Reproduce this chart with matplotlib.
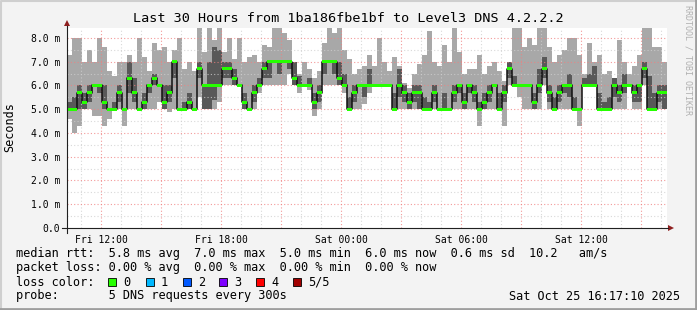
import numpy as np
import pandas as pd
import matplotlib
matplotlib.use('Agg')
import matplotlib.pyplot as plt
import matplotlib.dates as mdates
from matplotlib.patches import Rectangle, Polygon

# 15 minute steps over the last 30 hours (values in ms)
start = pd.Timestamp('2025-10-24 10:17:10')
ping_max = [7.3, 8.0, 8.0, 7.0, 7.5, 7.0, 8.0, 7.6, 6.6, 6.4, 7.0, 7.0, 7.3, 7.0, 8.0, 7.2, 6.6, 7.8, 7.5, 7.6,
            7.0, 7.5, 8.0, 6.7, 7.0, 6.6, 8.4, 7.4, 8.4, 7.9, 8.4, 7.4, 8.0, 7.1, 8.0, 7.0, 7.2, 7.3, 7.0, 7.7,
            7.6, 8.4, 8.4, 8.2, 7.9, 7.0, 6.5, 7.0, 6.7, 6.3, 6.6, 7.8, 8.4, 8.2, 8.4, 7.5, 7.1, 6.5, 6.7, 6.8,
            7.3, 6.8, 8.0, 7.0, 6.6, 7.2, 6.8, 6.1, 5.9, 6.5, 6.9, 7.3, 8.3, 7.0, 6.8, 7.7, 7.0, 8.4, 7.4, 6.5,
            6.7, 6.7, 7.3, 6.5, 6.8, 7.0, 6.6, 6.2, 7.0, 8.4, 8.4, 7.6, 8.0, 7.7, 8.4, 8.4, 7.6, 7.0, 7.3, 7.5,
            8.0, 8.0, 7.3, 6.5, 7.8, 7.0, 7.3, 6.5, 6.6, 6.3, 7.9, 7.0, 6.5, 6.8, 7.3, 8.4, 8.4, 7.6, 7.6, 7.0]
ping_min = [4.6, 4.0, 4.3, 5.0, 5.0, 4.7, 4.7, 4.3, 4.6, 5.0, 5.0, 4.3, 5.0, 5.0, 5.0, 5.0, 5.0, 5.0, 5.3, 5.0,
            4.9, 5.0, 5.0, 5.0, 5.0, 5.0, 5.5, 5.0, 5.0, 5.0, 5.3, 6.0, 6.0, 6.0, 6.0, 5.0, 5.0, 5.0, 5.7, 6.0,
            6.0, 6.0, 6.0, 6.0, 6.5, 6.0, 5.7, 6.0, 5.8, 4.7, 5.0, 6.0, 6.0, 6.0, 6.0, 5.7, 5.0, 5.0, 5.0, 5.2,
            5.7, 6.0, 6.0, 6.0, 6.0, 5.0, 5.0, 5.0, 5.0, 5.0, 5.0, 5.0, 5.0, 5.0, 5.0, 5.0, 5.0, 5.0, 5.0, 5.0,
            5.0, 5.0, 4.3, 5.0, 5.0, 5.0, 5.0, 4.3, 6.0, 6.0, 5.5, 5.0, 5.0, 5.0, 5.0, 6.0, 5.0, 5.0, 5.0, 5.0,
            5.0, 5.0, 4.3, 6.0, 6.0, 6.0, 5.0, 5.0, 5.0, 5.0, 5.0, 5.0, 6.0, 5.0, 5.0, 6.0, 5.0, 5.0, 5.0, 5.0]
inner_lo = [5.0, 5.0, 5.0, 5.0, 5.3, 6.0, 5.7, 5.0, 5.0, 5.0, 5.3, 5.0, 5.7, 5.3, 5.0, 5.0, 5.7, 6.0, 6.0, 5.0,
            5.3, 6.3, 5.0, 5.0, 5.0, 5.0, 6.3, 5.0, 5.0, 5.4, 6.0, 6.3, 6.3, 6.0, 6.0, 5.0, 5.0, 5.3, 6.0, 6.3,
            6.3, 7.0, 6.5, 7.0, 6.7, 6.0, 6.0, 6.0, 6.0, 5.0, 5.3, 6.5, 7.0, 6.5, 6.0, 6.0, 5.0, 5.3, 6.0, 5.5,
            6.0, 6.0, 6.0, 6.0, 6.0, 5.0, 5.5, 5.3, 5.0, 5.3, 5.0, 5.0, 5.0, 5.3, 5.0, 5.0, 5.0, 5.3, 5.7, 5.0,
            5.7, 5.3, 5.0, 5.0, 5.3, 6.0, 5.0, 5.3, 6.3, 6.0, 6.0, 6.0, 6.0, 5.0, 5.7, 6.3, 5.3, 5.0, 5.3, 5.7,
            5.5, 5.0, 5.0, 6.0, 6.0, 6.0, 5.0, 5.0, 5.0, 5.5, 5.3, 5.7, 6.0, 5.3, 5.3, 6.3, 5.0, 5.0, 5.3, 5.0]
inner_hi = [5.3, 5.5, 6.0, 5.7, 6.0, 6.0, 6.0, 6.0, 5.0, 5.3, 6.0, 5.0, 7.0, 6.3, 5.0, 5.7, 6.0, 6.5, 6.0, 6.0,
            6.0, 7.0, 5.0, 5.3, 5.7, 5.0, 7.0, 6.0, 7.0, 7.6, 7.5, 7.0, 7.0, 6.7, 6.0, 5.7, 5.0, 6.0, 6.3, 7.0,
            7.0, 7.0, 7.0, 7.0, 7.0, 7.0, 6.4, 6.0, 6.3, 5.7, 6.0, 7.0, 7.0, 7.0, 7.0, 6.5, 5.5, 6.0, 6.0, 6.0,
            6.7, 6.0, 6.0, 6.0, 6.0, 5.7, 6.7, 6.0, 5.7, 6.0, 6.0, 5.5, 5.3, 6.0, 5.0, 5.7, 5.0, 6.0, 6.0, 5.7,
            6.0, 6.0, 5.3, 5.7, 6.0, 6.0, 5.7, 6.0, 7.0, 6.4, 6.0, 6.0, 6.0, 5.7, 6.7, 7.2, 6.0, 5.5, 6.0, 6.0,
            6.5, 5.5, 5.0, 6.3, 6.5, 6.8, 5.7, 5.3, 5.5, 6.3, 6.0, 6.5, 6.0, 6.0, 6.0, 7.0, 6.4, 5.7, 6.0, 6.0]
median = [5.0, 5.0, 5.7, 5.3, 5.7, 6.0, 6.0, 5.3, 5.0, 5.0, 5.7, 5.0, 6.3, 5.7, 5.0, 5.3, 6.0, 6.3, 6.0, 5.3,
          5.7, 7.0, 5.0, 5.0, 5.3, 5.0, 6.7, 6.0, 6.0, 6.0, 6.0, 6.7, 6.7, 6.3, 6.0, 5.3, 5.0, 5.7, 6.0, 6.7,
          7.0, 7.0, 7.0, 7.0, 7.0, 6.3, 6.0, 6.0, 6.0, 5.3, 5.7, 7.0, 7.0, 7.0, 6.3, 6.0, 5.0, 5.7, 6.0, 6.0,
          6.0, 6.0, 6.0, 6.0, 6.0, 5.0, 6.0, 5.7, 5.3, 5.7, 5.7, 5.0, 5.0, 5.7, 5.0, 5.0, 5.0, 5.7, 6.0, 5.3,
          6.0, 5.7, 5.0, 5.3, 5.7, 6.0, 5.0, 5.7, 6.7, 6.0, 6.0, 6.0, 6.0, 5.3, 6.0, 6.7, 5.7, 5.0, 5.7, 6.0,
          6.0, 5.0, 5.0, 6.0, 6.0, 6.0, 5.0, 5.0, 5.0, 6.0, 5.7, 6.0, 6.0, 5.7, 6.0, 6.7, 5.0, 5.0, 5.7, 5.7]

ytick_vals = [0, 1, 2, 3, 4, 5, 6, 7, 8]
ytick_labels = ['0.0', '1.0 m', '2.0 m', '3.0 m', '4.0 m', '5.0 m', '6.0 m', '7.0 m', '8.0 m']
xtick_times = ['2025-10-24 12:00', '2025-10-24 18:00', '2025-10-25 00:00', '2025-10-25 06:00', '2025-10-25 12:00']
xtick_labels = ['Fri 12:00', 'Fri 18:00', 'Sat 00:00', 'Sat 06:00', 'Sat 12:00']

loss_labels = ['0', '1', '2', '3', '4', '5/5']
loss_colors = ['#26ff00', '#00b8ff', '#0059ff', '#7e00ff', '#ff0000', '#a10000']

legend_rows = ['median rtt:  5.8 ms avg  7.0 ms max  5.0 ms min  6.0 ms now  0.6 ms sd  10.2   am/s',
               'packet loss: 0.00 % avg  0.00 % max  0.00 % min  0.00 % now',
               'loss color:',
               'probe:       5 DNS requests every 300s']
stamp = 'Sat Oct 25 16:17:10 2025'
title = 'Last 30 Hours from 1ba186fbe1bf to Level3 DNS 4.2.2.2'

mono = 'DejaVu Sans Mono'
n = len(median)
t = mdates.date2num(pd.date_range(start, periods=n + 1, freq='15min'))
w = t[1] - t[0]
ext = lambda a: np.append(a, a[-1])

fig = plt.figure(figsize=(6.97, 3.10), dpi=100, facecolor='#f3f3f3')
ax = fig.add_axes([67 / 697, 82 / 310, 600 / 697, 200 / 310])
ax.set_facecolor('white')
ax.set_xlim(t[0], t[-1])
ax.set_ylim(0, 8.42)

# smoke
ax.fill_between(t, ext(ping_min), ext(ping_max), step='post', color='#a8a8a8', lw=0, zorder=2)
ax.fill_between(t, ext(inner_lo), ext(inner_hi), step='post', color='#585858', lw=0, zorder=3)

# grid on top of the smoke: hourly gray, every 3 hours red; 0.5 ms gray, 1 ms red
for h in pd.date_range(start.ceil('h'), periods=31, freq='h'):
    x = mdates.date2num(h)
    if x >= t[-1]:
        break
    c = '#f08080' if h.hour % 3 == 0 else '#cfcfcf'
    ax.axvline(x, color=c, lw=0.8, ls=(0, (1, 2)), alpha=0.8, zorder=3.5)
for v in np.arange(0.5, 8.5, 0.5):
    c = '#f08080' if v % 1 == 0 else '#cfcfcf'
    ax.axhline(v, color=c, lw=0.8, ls=(0, (1, 2)), alpha=0.8, zorder=3.5)

ax.step(t, ext(median), where='post', color='#101010', lw=1.1, zorder=4)
ax.bar(t[:-1], 0.13, bottom=np.array(median) - 0.065, width=w, align='edge',
       color=loss_colors[0], lw=0, zorder=5)

ax.set_yticks(ytick_vals, ytick_labels)
ax.set_xticks(mdates.date2num(pd.to_datetime(xtick_times)), xtick_labels)
ax.tick_params(axis='both', labelsize=7, length=0, pad=5)
for lab in ax.get_xticklabels() + ax.get_yticklabels():
    lab.set_fontfamily(mono)
for s in ax.spines.values():
    s.set_visible(False)

# overlay in pixel coordinates for frame, axes arrows and legend text
ov = fig.add_axes([0, 0, 1, 1], zorder=10)
ov.set_xlim(0, 697)
ov.set_ylim(310, 0)
ov.axis('off')
ov.patch.set_visible(False)

ov.plot([0.5, 0.5, 696], [310, 0.5, 0.5], color='#cfcfcf', lw=1.5)
ov.plot([0, 696, 696], [309, 309, 0], color='#9e9e9e', lw=2)

ov.plot([62, 668], [228, 228], color='#202020', lw=0.8)
ov.plot([67, 67], [233, 26], color='#202020', lw=0.8)
ov.add_patch(Polygon([[668, 225], [668, 231], [674, 228]], closed=True, color='#8f1f1f', lw=0))
ov.add_patch(Polygon([[64, 26], [70, 26], [67, 20]], closed=True, color='#8f1f1f', lw=0))

ov.text(348, 19, title, fontsize=9.7, family=mono, ha='center', va='center')
ov.text(10, 127, 'Seconds', fontsize=8.5, family=mono, rotation=90, ha='center', va='center')
ov.text(688, 5, 'RRDTOOL / TOBI OETIKER', fontsize=6, family=mono, rotation=-90,
        ha='center', va='top', color='#b0b0b0')

for i, row in enumerate(legend_rows):
    ov.text(16, 254 + 14 * i, row, fontsize=8.55, family=mono, va='center')
box_x = [108, 146, 183, 219, 256, 293]
for bx, lab, col in zip(box_x, loss_labels, loss_colors):
    ov.add_patch(Rectangle((bx, 278), 8, 8, facecolor=col, edgecolor='black', lw=0.6))
    ov.text(bx + 15, 282, lab, fontsize=8.55, family=mono, va='center')
ov.text(680, 296, stamp, fontsize=8.55, family=mono, ha='right', va='center')

fig.savefig('out.png', dpi=100, facecolor=fig.get_facecolor())
